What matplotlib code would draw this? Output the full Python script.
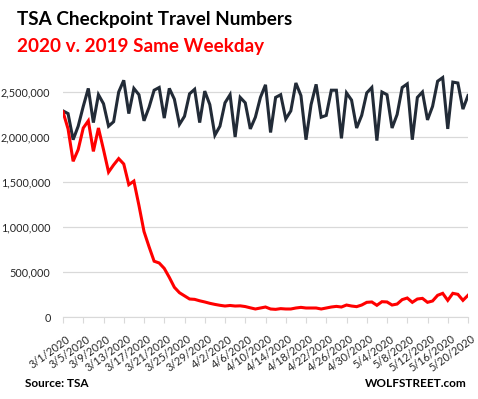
import pandas as pd
import matplotlib.pyplot as plt
import matplotlib.ticker as ticker
import matplotlib.transforms as mtransforms

plt.rcParams['font.family'] = ['Lato', 'DejaVu Sans']

# Dny od 1.3.2020 do 20.5.2020
dates = pd.date_range('2020-03-01', '2020-05-20', freq='D')
date_labels = [f'{d.month}/{d.day}/{d.year}' for d in dates]

# Stejny den v tydnu v roce 2019
travel_2019 = [2.29, 2.26, 1.97, 2.12, 2.34, 2.54, 2.16, 2.47, 2.37, 2.12,
               2.17, 2.50, 2.63, 2.26, 2.54, 2.47, 2.18, 2.33, 2.52, 2.55,
               2.21, 2.54, 2.42, 2.14, 2.23, 2.48, 2.53, 2.16, 2.51, 2.36,
               2.02, 2.12, 2.38, 2.47, 2.00, 2.44, 2.38, 2.09, 2.22, 2.44,
               2.58, 2.05, 2.44, 2.47, 2.20, 2.29, 2.60, 2.46, 1.97, 2.36,
               2.585, 2.22, 2.24, 2.52, 2.52, 1.985, 2.49, 2.41, 2.10, 2.24,
               2.49, 2.55, 1.96, 2.50, 2.47, 2.10, 2.25, 2.55, 2.59, 1.97,
               2.44, 2.50, 2.19, 2.34, 2.62, 2.66, 2.09, 2.61, 2.60, 2.31,
               2.46]

# Rok 2020
travel_2020 = [2.28, 2.09, 1.73, 1.86, 2.10, 2.18, 1.84, 2.10, 1.86, 1.61,
               1.69, 1.76, 1.70, 1.47, 1.51, 1.24, 0.95, 0.78, 0.62, 0.60,
               0.54, 0.44, 0.33, 0.27, 0.235, 0.20, 0.196, 0.18, 0.167, 0.152,
               0.14, 0.13, 0.122, 0.128, 0.122, 0.124, 0.116, 0.102, 0.089, 0.10,
               0.111, 0.089, 0.085, 0.093, 0.089, 0.089, 0.10, 0.107, 0.10, 0.10,
               0.10, 0.089, 0.10, 0.111, 0.118, 0.111, 0.133, 0.122, 0.115, 0.133,
               0.163, 0.167, 0.130, 0.170, 0.167, 0.133, 0.144, 0.193, 0.211, 0.163,
               0.200, 0.207, 0.163, 0.178, 0.241, 0.263, 0.185, 0.263, 0.252, 0.185,
               0.241]

values_2019 = [v * 1e6 for v in travel_2019]
values_2020 = [v * 1e6 for v in travel_2020]
x = list(range(len(dates)))

fig = plt.figure(figsize=(4.78, 3.99), dpi=100)
ax = fig.add_axes([63 / 478, 82 / 399, 405 / 478, 247.5 / 399])

ax.plot(x, values_2019, color='#222b37', linewidth=2.2, solid_joinstyle='miter')
ax.plot(x, values_2020, color='#ff0000', linewidth=2.2, solid_joinstyle='miter')

ax.set_xlim(0, len(dates) - 1)
ax.set_ylim(0, 2750000)

# Osa Y
ax.yaxis.set_major_locator(ticker.MultipleLocator(500000))
ax.yaxis.set_major_formatter(ticker.FuncFormatter(lambda v, p: f'{int(v):,}'))
ax.grid(axis='y', color='#d9d9d9', linewidth=0.9)
ax.set_axisbelow(True)
ax.tick_params(axis='y', length=0, labelsize=7.8, labelcolor='#262626', pad=9)

# Osa X - kazdy 4. den
ax.set_xticks(x[::4])
ax.set_xticklabels(date_labels[::4], rotation=36, ha='right', va='center',
                   rotation_mode='anchor', fontsize=7.8, color='#262626')
ax.tick_params(axis='x', length=4, color='#d9d9d9', pad=11)
posun = mtransforms.ScaledTranslation(6 / 100, 0, fig.dpi_scale_trans)
for lbl in ax.get_xticklabels():
    lbl.set_transform(lbl.get_transform() + posun)

for side in ['top', 'right', 'left']:
    ax.spines[side].set_visible(False)
ax.spines['bottom'].set_color('#d9d9d9')

# Nadpisy
fig.text(17 / 478, 1 - 25 / 399, 'TSA Checkpoint Travel Numbers', fontsize=13.6,
         fontweight='bold', color='black', va='baseline')
fig.text(17 / 478, 1 - 52 / 399, '2020 v. 2019 Same Weekday', fontsize=13.6,
         fontweight='bold', color='#ff0000', va='baseline')

# Paticka
fig.text(25 / 478, 1 - 387 / 399, 'Source: TSA', fontsize=8.5,
         fontweight='bold', va='baseline')
fig.text(467 / 478, 1 - 387 / 399, 'WOLFSTREET.com', fontsize=8.5,
         fontweight='bold', va='baseline', ha='right')

plt.savefig('out.png', dpi=100)
